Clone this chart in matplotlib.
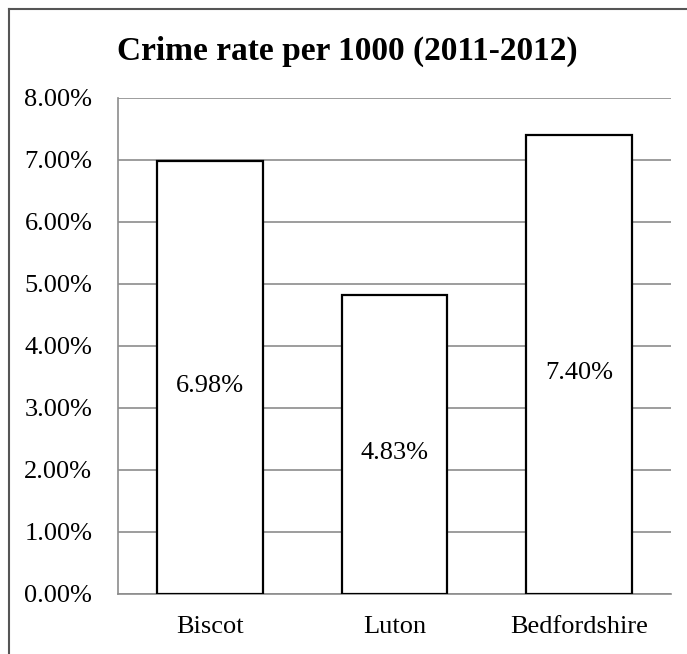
import matplotlib.pyplot as plt
from matplotlib.ticker import PercentFormatter
from matplotlib.lines import Line2D

# Daten
areas = ["Biscot", "Luton", "Bedfordshire"]
rates = [6.98, 4.83, 7.40]
rate_labels = ["6.98%", "4.83%", "7.40%"]
y_ticks = [0, 1, 2, 3, 4, 5, 6, 7, 8]

plt.rcParams['font.family'] = ['Liberation Serif', 'DejaVu Serif']

W, H = 687, 654
fig = plt.figure(figsize=(W / 100, H / 100), dpi=100)

# Rahmen (nur oben und links sichtbar, Rest abgeschnitten)
fig.add_artist(Line2D([9 / W, 9 / W], [0, 1 - 9 / H], transform=fig.transFigure,
                      color='#555555', lw=1.5))
fig.add_artist(Line2D([9 / W, 1], [1 - 9 / H, 1 - 9 / H], transform=fig.transFigure,
                      color='#555555', lw=1.5))

left, right = 118 / W, 671 / W
bottom, top = 1 - 594 / H, 1 - 98 / H
ax = fig.add_axes([left, bottom, right - left, top - bottom])

x = range(len(areas))
bars = ax.bar(x, rates, width=0.575, color='white', edgecolor='black',
              linewidth=1.6, zorder=3)

# Werte mittig im Balken, etwas nach unten versetzt wie im Original
for b, lab, v in zip(bars, rate_labels, rates):
    ax.annotate(lab, (b.get_x() + b.get_width() / 2, v / 2),
                xytext=(0, -6), textcoords='offset pixels',
                ha='center', va='center_baseline', fontsize=19, zorder=4)

ax.set_xlim(-0.5, len(areas) - 0.5)
ax.set_ylim(0, 8)
ax.set_yticks(y_ticks)
ax.yaxis.set_major_formatter(PercentFormatter(decimals=2))
ax.set_xticks(list(x))
ax.set_xticklabels(areas)
ax.tick_params(axis='both', length=0, labelsize=19)
ax.tick_params(axis='y', pad=18.5)
ax.tick_params(axis='x', pad=16)

ax.grid(axis='y', color='#8c8c8c', linewidth=1.2, zorder=0)
for s in ['top', 'right']:
    ax.spines[s].set_visible(False)
for s in ['left', 'bottom']:
    ax.spines[s].set_color('#8c8c8c')
    ax.spines[s].set_linewidth(1.2)

fig.text(347 / W, 1 - 51 / H, "Crime rate per 1000 (2011-2012)",
         ha='center', va='center', fontsize=24, fontweight='bold')

fig.savefig("out.png", dpi=100)
